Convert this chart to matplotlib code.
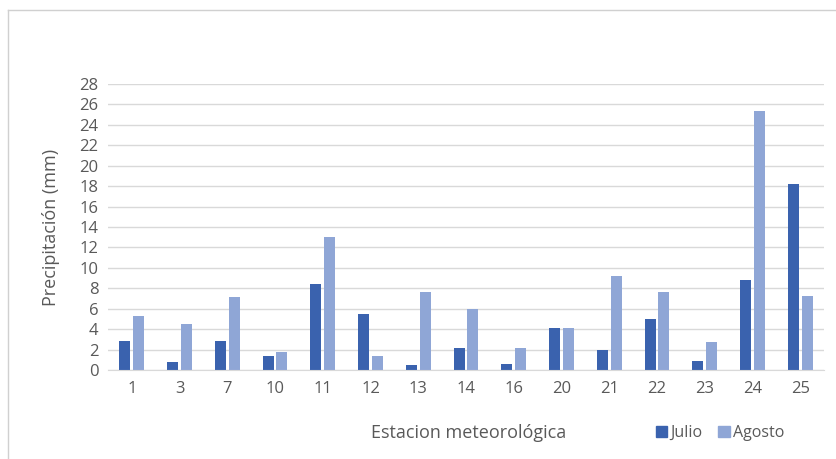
import matplotlib.pyplot as plt
import matplotlib.patches as mpatches
from matplotlib.lines import Line2D
import numpy as np

# ---------------------------------------------------------------------------
# Data
# ---------------------------------------------------------------------------
estaciones = ["1", "3", "7", "10", "11", "12", "13", "14", "16", "20",
              "21", "22", "23", "24", "25"]
julio  = [2.8, 0.8, 2.8, 1.4, 8.4, 5.5, 0.5, 2.2, 0.6, 4.1, 2.0, 5.0, 0.9, 8.8, 18.2]
agosto = [5.3, 4.5, 7.1, 1.8, 13.0, 1.4, 7.6, 6.0, 2.2, 4.1, 9.2, 7.6, 2.7, 25.4, 7.2]
y_ticks = list(range(0, 29, 2))

COLOR_JULIO  = "#3A62AE"
COLOR_AGOSTO = "#8FA6D6"
TEXT_COLOR   = "#595959"
GRID_COLOR   = "#D9D9D9"

plt.rcParams["font.family"] = ["Open Sans", "DejaVu Sans"]

W, H = 837, 459
fig = plt.figure(figsize=(W / 100, H / 100), dpi=100)
ax = fig.add_axes([108 / W, 1 - 370 / H, (824 - 108) / W, (370 - 84) / H])

x = np.arange(len(estaciones))
width = 0.23
off = 0.145
ax.bar(x - off, julio, width, color=COLOR_JULIO, zorder=3)
ax.bar(x + off, agosto, width, color=COLOR_AGOSTO, zorder=3)

ax.set_xlim(-0.5, len(estaciones) - 0.5)
ax.set_ylim(0, 28)
ax.set_yticks(y_ticks)
ax.set_xticks(x)
ax.set_xticklabels(estaciones)
ax.tick_params(length=0, labelsize=12, colors=TEXT_COLOR, pad=8)
ax.tick_params(axis="y", pad=7)
ax.yaxis.grid(True, color=GRID_COLOR, linewidth=1, zorder=0)
for s in ["top", "right", "left"]:
    ax.spines[s].set_visible(False)
ax.spines["bottom"].set_color(GRID_COLOR)
ax.spines["bottom"].set_zorder(4)

ax.set_ylabel("Precipitación (mm)", fontsize=13, color=TEXT_COLOR, labelpad=14)

fig.text(469 / W, 1 - 433 / H, "Estacion meteorológica", fontsize=13,
         color=TEXT_COLOR, ha="center", va="center")

handles = [mpatches.Patch(color=COLOR_JULIO, label="Julio"),
           mpatches.Patch(color=COLOR_AGOSTO, label="Agosto")]
fig.legend(handles=handles, loc="center", bbox_to_anchor=(720 / W, 1 - 433 / H),
           ncol=2, frameon=False, fontsize=11.5, labelcolor=TEXT_COLOR,
           handlelength=0.7, handleheight=0.7, handletextpad=0.2, columnspacing=1.0)

# outer chart frame (left and top edges visible)
fig.add_artist(Line2D([8.5 / W, 8.5 / W], [0, 1 - 9.5 / H], color="#D0D0D0",
                      linewidth=1, transform=fig.transFigure))
fig.add_artist(Line2D([8.5 / W, 1], [1 - 9.5 / H, 1 - 9.5 / H], color="#D0D0D0",
                      linewidth=1, transform=fig.transFigure))

fig.savefig("out.png", dpi=100)
